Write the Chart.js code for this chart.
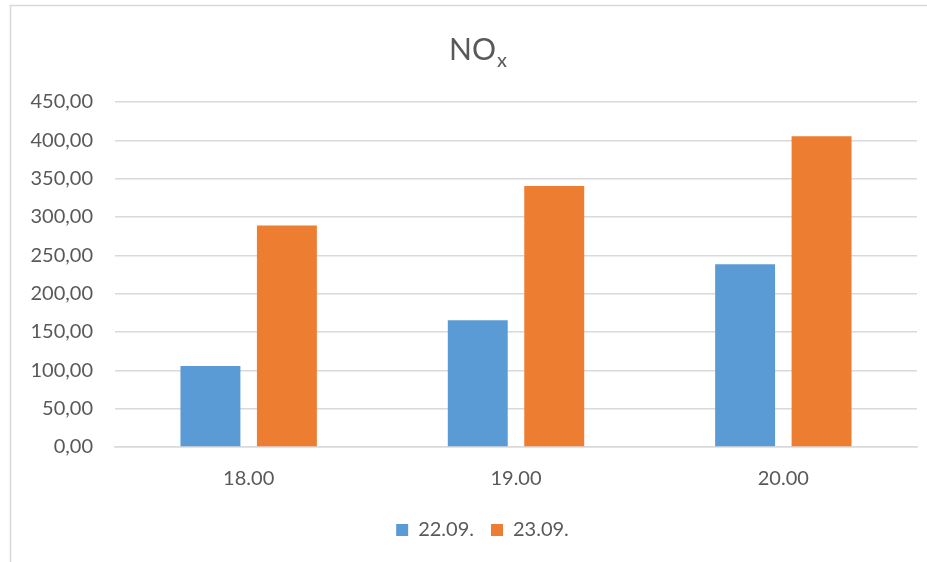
<!DOCTYPE html>
<html>
<head>
<meta charset="utf-8">
<script src="https://cdn.jsdelivr.net/npm/chart.js@4/dist/chart.umd.min.js"></script>
<style>
  html, body { margin: 0; padding: 0; background: #ffffff; }
  #wrap { position: absolute; left: 0; top: 0; width: 927px; height: 562px; }
</style>
</head>
<body>
<div id="wrap"><canvas id="c" width="927" height="562"></canvas></div>
<script>
const categories = ['18.00', '19.00', '20.00'];
const seriesNames = ['22.09.', '23.09.'];
const values2209 = [105.5, 165.3, 238.3];
const values2309 = [289, 340.5, 405.2];
const titleMain = 'NO';
const titleSub = 'x';

const FONT = 'Lato, "Open Sans", sans-serif';
const TXT = '#595959';
const GRID = '#d9d9d9';

const frameAndTitle = {
  id: 'frameAndTitle',
  afterLayout(chart) {
    if (chart.legend) {
      chart.legend.left += 11;
      chart.legend.right += 11;
    }
  },
  beforeDraw(chart) {
    const ctx = chart.ctx;
    ctx.save();
    ctx.fillStyle = '#ffffff';
    ctx.fillRect(0, 0, chart.width, chart.height);
    ctx.strokeStyle = GRID;
    ctx.lineWidth = 1.5;
    ctx.beginPath();
    ctx.moveTo(10.5, chart.height);
    ctx.lineTo(10.5, 5.5);
    ctx.lineTo(chart.width, 5.5);
    ctx.stroke();
    ctx.restore();
  },
  afterDraw(chart) {
    const ctx = chart.ctx;
    ctx.save();
    ctx.fillStyle = TXT;
    ctx.textBaseline = 'alphabetic';
    ctx.font = '30px ' + FONT;
    const w1 = ctx.measureText(titleMain).width;
    ctx.font = '20px ' + FONT;
    const w2 = ctx.measureText(titleSub).width;
    const total = w1 + w2 + 1;
    const x0 = 478 - total / 2;
    const base = 60;
    ctx.font = '30px ' + FONT;
    ctx.fillText(titleMain, x0, base);
    ctx.font = '20px ' + FONT;
    ctx.fillText(titleSub, x0 + w1 + 1, base + 7);
    ctx.restore();
  }
};

new Chart(document.getElementById('c'), {
  type: 'bar',
  data: {
    labels: categories,
    datasets: [
      { label: seriesNames[0], data: values2209, backgroundColor: '#5B9BD5', borderWidth: 0 },
      { label: seriesNames[1], data: values2309, backgroundColor: '#ED7D31', borderWidth: 0 }
    ]
  },
  plugins: [frameAndTitle],
  options: {
    responsive: false,
    animation: false,
    devicePixelRatio: 1,
    categoryPercentage: 0.572,
    barPercentage: 0.784,
    layout: { padding: { left: 26, right: 10, top: 102, bottom: 12 } },
    plugins: {
      title: { display: false },
      tooltip: { enabled: false },
      legend: {
        position: 'bottom',
        labels: {
          color: TXT,
          font: { family: FONT, size: 20 },
          boxWidth: 12,
          boxHeight: 12,
          padding: 17
        }
      }
    },
    scales: {
      x: {
        grid: { display: false, drawTicks: false },
        border: { display: true, color: GRID, width: 1.5 },
        ticks: { color: TXT, font: { family: FONT, size: 20 }, padding: 20 },
        afterFit(scale) { scale.height -= 8; }
      },
      y: {
        min: 0,
        max: 450,
        grid: { color: GRID, lineWidth: 1.5, drawTicks: false },
        border: { display: false },
        ticks: {
          stepSize: 50,
          color: TXT,
          font: { family: FONT, size: 20 },
          padding: 22,
          callback: v => Number(v).toFixed(2).replace('.', ',')
        },
        afterFit(scale) { scale.width = 89; }
      }
    }
  }
});
</script>
</body>
</html>
